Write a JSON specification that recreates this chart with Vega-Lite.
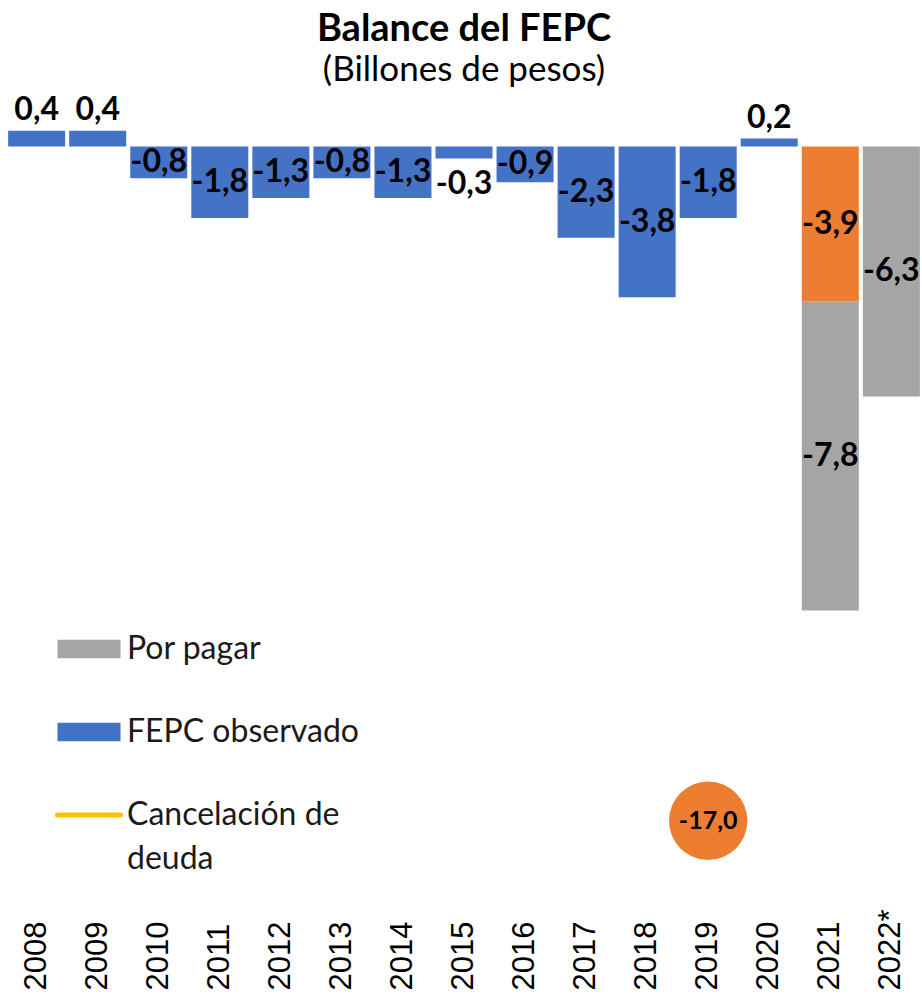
{
  "$schema": "https://vega.github.io/schema/vega-lite/v6.json",
  "autosize": {"type": "none"},
  "width": 916,
  "height": 805,
  "padding": {"left": 6, "right": 0, "top": 95, "bottom": 107},
  "title": {
    "text": "Balance del FEPC",
    "subtitle": "(Billones de pesos)",
    "anchor": "middle",
    "font": "Lato",
    "fontSize": 38,
    "fontWeight": "bold",
    "color": "#000000",
    "subtitleFont": "Lato",
    "subtitleFontSize": 35,
    "subtitleColor": "#000000",
    "subtitlePadding": 4,
    "offset": 6
  },
  "config": {
    "view": {"stroke": null},
    "font": "Lato",
    "locale": {
      "number": {"decimal": ",", "thousands": ".", "grouping": [3], "currency": ["$", ""], "minus": "-"}
    }
  },
  "datasets": {
    "bars": [
      {"year": "2008", "serie": "FEPC observado", "value": 0.4},
      {"year": "2009", "serie": "FEPC observado", "value": 0.4},
      {"year": "2010", "serie": "FEPC observado", "value": -0.8},
      {"year": "2011", "serie": "FEPC observado", "value": -1.8},
      {"year": "2012", "serie": "FEPC observado", "value": -1.3},
      {"year": "2013", "serie": "FEPC observado", "value": -0.8},
      {"year": "2014", "serie": "FEPC observado", "value": -1.3},
      {"year": "2015", "serie": "FEPC observado", "value": -0.3},
      {"year": "2016", "serie": "FEPC observado", "value": -0.9},
      {"year": "2017", "serie": "FEPC observado", "value": -2.3},
      {"year": "2018", "serie": "FEPC observado", "value": -3.8},
      {"year": "2019", "serie": "FEPC observado", "value": -1.8},
      {"year": "2020", "serie": "FEPC observado", "value": 0.2},
      {"year": "2021", "serie": "FEPC 2021", "value": -3.9},
      {"year": "2021", "serie": "Por pagar", "value": -7.8},
      {"year": "2022*", "serie": "Por pagar", "value": -6.3}
    ],
    "cancel": [
      {"year": "2019", "serie": "Cancelación de deuda", "value": -17.0}
    ]
  },
  "encoding": {
    "x": {
      "field": "year",
      "type": "ordinal",
      "scale": {
        "domain": ["2008", "2009", "2010", "2011", "2012", "2013", "2014", "2015", "2016", "2017", "2018", "2019", "2020", "2021", "2022*"],
        "paddingInner": 0.066,
        "paddingOuter": 0.035
      },
      "axis": {
        "title": null,
        "domain": false,
        "ticks": false,
        "tickSize": 0,
        "labelAngle": -90,
        "labelAlign": "left",
        "labelBaseline": "middle",
        "labelPadding": 90,
        "labelFont": "Liberation Sans",
        "labelFontSize": 31,
        "labelColor": "#000000"
      }
    }
  },
  "layer": [
    {
      "data": {"name": "bars"},
      "transform": [
        {"stack": "value", "groupby": ["year"], "sort": [{"field": "serie", "order": "ascending"}], "as": ["v0", "v1"]},
        {"calculate": "(datum.v0 + datum.v1) / 2", "as": "mid"}
      ],
      "layer": [
        {
          "mark": {"type": "bar"},
          "encoding": {
            "y": {"field": "v0", "type": "quantitative", "scale": {"domain": [-19, 1.3], "nice": false, "zero": false}, "axis": null},
            "y2": {"field": "v1"},
            "color": {
              "field": "serie",
              "type": "nominal",
              "scale": {
                "domain": ["Por pagar", "FEPC observado", "Cancelación de deuda", "FEPC 2021"],
                "range": ["#A5A5A5", "#4472C4", "#FFC000", "#ED7D31"]
              },
              "legend": {
                "values": ["Por pagar", "FEPC observado", "Cancelación de deuda"],
                "title": null,
                "orient": "none",
                "legendX": 49,
                "legendY": 520,
                "direction": "vertical",
                "padding": 0,
                "symbolType": "M-1,-0.29H1V0.29H-1Z",
                "symbolSize": 3969,
                "symbolStrokeWidth": 0,
                "symbolOpacity": 1,
                "rowPadding": 29,
                "labelOffset": 4,
                "labelFont": "Lato",
                "labelFontSize": 32,
                "labelColor": "#1a1a1a",
                "labelLimit": 400,
                "labelExpr": "datum.value === 'Cancelación de deuda' ? ['Cancelación de', 'deuda'] : datum.label",
                "encode": {
                  "labels": {
                    "update": {
                      "lineHeight": {"value": 44}
                    }
                  },
                  "symbols": {
                    "update": {
                      "shape": {"signal": "datum.value === 'Cancelación de deuda' ? 'stroke' : 'M-1,-0.29H1V0.29H-1Z'"},
                      "stroke": {"signal": "datum.value === 'Cancelación de deuda' ? '#FFC000' : 'transparent'"},
                      "strokeWidth": {"value": 5},
                      "strokeCap": {"value": "round"}
                    }
                  }
                }
              }
            }
          }
        },
        {
          "transform": [{"filter": "datum.value > 0"}],
          "mark": {"type": "text", "font": "Lato", "fontWeight": "bold", "fontSize": 32, "baseline": "bottom", "dy": -4, "color": "#000000"},
          "encoding": {
            "y": {"field": "v1", "type": "quantitative"},
            "text": {"field": "value", "type": "quantitative", "format": ".1f"}
          }
        },
        {
          "transform": [{"filter": "datum.value < 0 && datum.value > -0.5"}],
          "mark": {"type": "text", "font": "Lato", "fontWeight": "bold", "fontSize": 32, "baseline": "middle", "dy": 26, "color": "#000000"},
          "encoding": {
            "y": {"field": "v1", "type": "quantitative"},
            "text": {"field": "value", "type": "quantitative", "format": ".1f"}
          }
        },
        {
          "transform": [{"filter": "datum.value <= -0.5"}],
          "mark": {"type": "text", "font": "Lato", "fontWeight": "bold", "fontSize": 32, "baseline": "middle", "color": "#000000"},
          "encoding": {
            "y": {"field": "mid", "type": "quantitative"},
            "text": {"field": "value", "type": "quantitative", "format": ".1f"}
          }
        }
      ]
    },
    {
      "mark": {"type": "rule", "color": "#D9D9D9", "strokeWidth": 3},
      "encoding": {"y": {"datum": 0, "type": "quantitative"}}
    },
    {
      "data": {"name": "cancel"},
      "layer": [
        {
          "mark": {"type": "point", "shape": "circle", "filled": true, "size": 6150, "color": "#ED7D31", "opacity": 1},
          "encoding": {"y": {"field": "value", "type": "quantitative"}}
        },
        {
          "mark": {"type": "text", "font": "Lato", "fontWeight": "bold", "fontSize": 25, "baseline": "middle", "color": "#000000"},
          "encoding": {
            "y": {"field": "value", "type": "quantitative"},
            "text": {"field": "value", "type": "quantitative", "format": ".1f"}
          }
        }
      ]
    }
  ]
}
